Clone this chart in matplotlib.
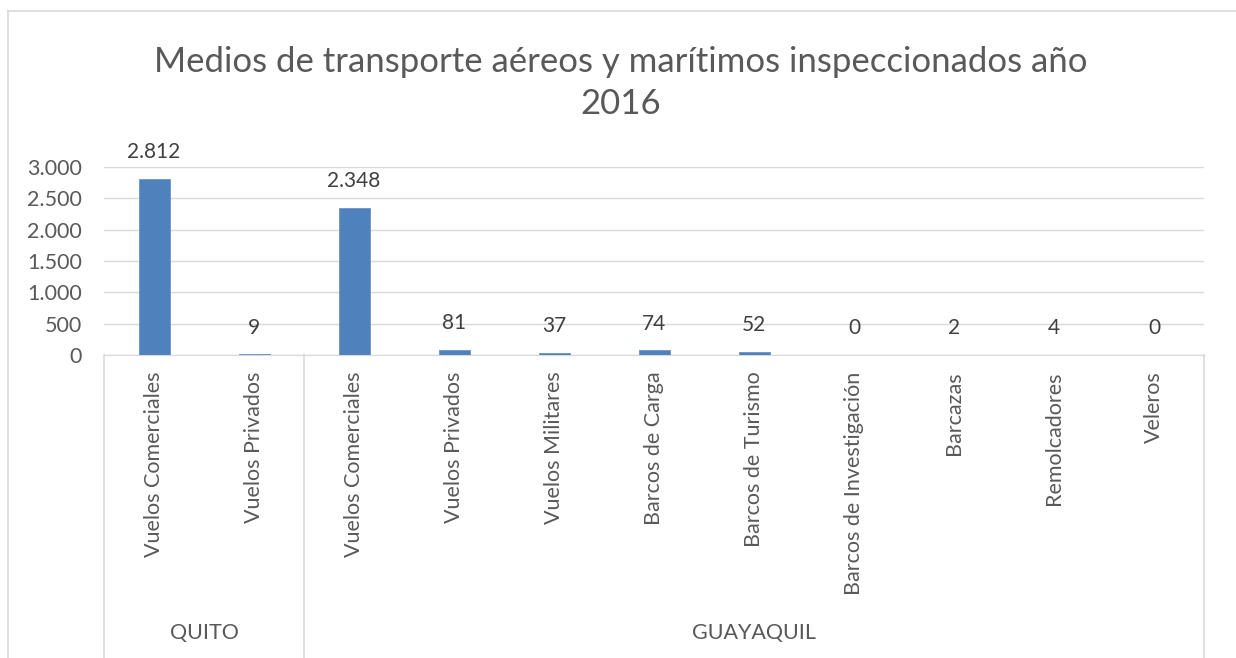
import matplotlib.pyplot as plt
from matplotlib.lines import Line2D
from matplotlib.ticker import FuncFormatter

# Data
groups = ["QUITO", "GUAYAQUIL"]
group_sizes = [2, 9]
categories = ["Vuelos Comerciales", "Vuelos Privados",
              "Vuelos Comerciales", "Vuelos Privados", "Vuelos Militares",
              "Barcos de Carga", "Barcos de Turismo", "Barcos de Investigación",
              "Barcazas", "Remolcadores", "Veleros"]
values = [2812, 9, 2348, 81, 37, 74, 52, 0, 2, 4, 0]
title = "Medios de transporte aéreos y marítimos inspeccionados año\n2016"

text_color = "#595959"
plt.rcParams['font.family'] = ['Lato', 'DejaVu Sans']


def miles(v, pos=None):
    return f"{int(v):,}".replace(",", ".")


W, H = 1236, 658
fig = plt.figure(figsize=(W / 100, H / 100), dpi=100)

# chart border (left and top edges only are visible)
border = "#D9D9D9"
fig.add_artist(Line2D([8 / W, 8 / W], [0, 1 - 11 / H], transform=fig.transFigure, color=border, linewidth=1.2))
fig.add_artist(Line2D([8 / W, 1], [1 - 11 / H, 1 - 11 / H], transform=fig.transFigure, color=border, linewidth=1.2))

x0, x1 = 104, 1204
y_top, y_axis = 167, 355
ax = fig.add_axes([x0 / W, 1 - y_axis / H, (x1 - x0) / W, (y_axis - y_top) / H])

x = list(range(len(values)))
ax.bar(x, values, width=0.31, color="#4F81BD", edgecolor="#6A93C6", linewidth=0.6, zorder=3)
for xi, v in zip(x, values):
    ax.annotate(miles(v), (xi, v), xytext=(0, 12), textcoords="offset points",
                ha="center", va="bottom", fontsize=15, color="#404040", clip_on=False)

ax.set_xlim(-0.5, len(values) - 0.5)
ax.set_ylim(0, 3000)
ax.set_yticks(range(0, 3001, 500))
ax.yaxis.set_major_formatter(FuncFormatter(miles))
ax.grid(axis="y", color="#D9D9D9", linewidth=1, zorder=0)
for s in ["top", "right", "left"]:
    ax.spines[s].set_visible(False)
ax.spines["bottom"].set_color("#D9D9D9")
ax.tick_params(axis="y", length=0, pad=16, labelsize=15.5, labelcolor=text_color)
ax.set_xticks(x)
ax.set_xticklabels(categories, rotation=90, fontsize=15.5, color=text_color, va="top")
ax.tick_params(axis="x", length=0, pad=12)

# group separators and labels
pos = -0.5
bounds = [pos]
for n in group_sizes:
    pos += n
    bounds.append(pos)
for b in bounds:
    xf = (x0 + (b + 0.5) * (x1 - x0) / len(values)) / W
    fig.add_artist(Line2D([xf, xf], [0, 1 - y_axis / H], transform=fig.transFigure,
                          color=border, linewidth=1.2))
group_y = 1 - (633 - y_top) / (y_axis - y_top)
for g, a, b in zip(groups, bounds[:-1], bounds[1:]):
    ax.text((a + b) / 2, group_y, g, transform=ax.get_xaxis_transform(), ha="center",
            va="center", fontsize=15.5, color=text_color, clip_on=False)

fig.text(621 / W, 1 - 83 / H, title, ha="center", va="center", fontsize=25,
         color=text_color, linespacing=1.4)

fig.savefig("out.png", dpi=100)
